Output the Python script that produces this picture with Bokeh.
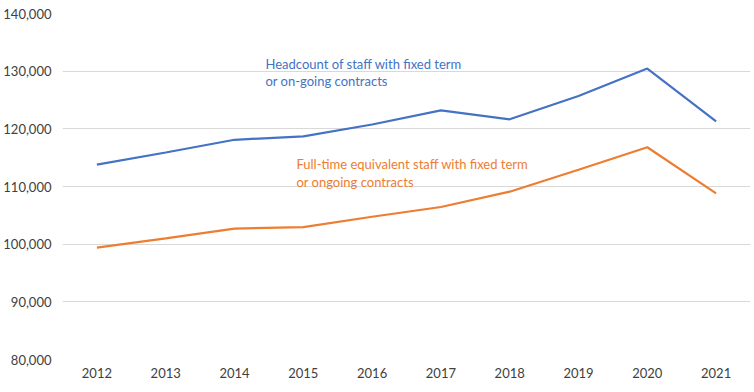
from bokeh.plotting import figure
from bokeh.models import Range1d, FactorRange, NumeralTickFormatter, Label, FixedTicker
from bokeh.embed import file_html
from bokeh.resources import INLINE

years = ["2012", "2013", "2014", "2015", "2016", "2017", "2018", "2019", "2020", "2021"]
headcount = [113800, 115900, 118100, 118700, 120750, 123200, 121650, 125700, 130450, 121300]
fte = [99400, 101000, 102700, 102950, 104750, 106450, 109100, 112900, 116800, 108800]
y_ticks = [80000, 90000, 100000, 110000, 120000, 130000, 140000]

BLUE = "#4472C4"
ORANGE = "#ED7D31"
FONT = "Lato"

p = figure(width=754, height=392, output_backend="svg", toolbar_location=None,
           x_range=FactorRange(*years), y_range=Range1d(80000, 140000),
           min_border_left=62, min_border_right=4, min_border_top=13, min_border_bottom=33)
p.outline_line_color = None
p.background_fill_color = "white"
p.border_fill_color = "white"

p.line(years, headcount, line_color=BLUE, line_width=2.2)
p.line(years, fte, line_color=ORANGE, line_width=2.2)

p.xgrid.grid_line_color = None
p.ygrid.grid_line_color = "#d9d9d9"
p.ygrid.grid_line_width = 1
p.yaxis.ticker = FixedTicker(ticks=y_ticks)
p.yaxis.formatter = NumeralTickFormatter(format="0,0")

for ax in (p.xaxis[0], p.yaxis[0]):
    ax.axis_line_color = None
    ax.major_tick_line_color = None
    ax.minor_tick_line_color = None
    ax.major_tick_out = 0
    ax.minor_tick_out = 0
    ax.major_tick_in = 0
    ax.major_label_text_font = FONT
    ax.major_label_text_font_size = "13px"
    ax.major_label_text_color = "#404040"
p.yaxis.major_label_standoff = 11
p.xaxis.major_label_standoff = 8

p.add_layout(Label(x=2.95, y=129770, text="Headcount of staff with fixed term\nor on-going contracts",
                   text_font=FONT, text_font_size="13px", text_color=BLUE,
                   text_baseline="middle", text_line_height=1.1))
p.add_layout(Label(x=3.40, y=112340, text="Full-time equivalent staff with fixed term\nor ongoing contracts",
                   text_font=FONT, text_font_size="13px", text_color=ORANGE,
                   text_baseline="middle", text_line_height=1.1))

open("out.html", "w").write(file_html(p, INLINE))
